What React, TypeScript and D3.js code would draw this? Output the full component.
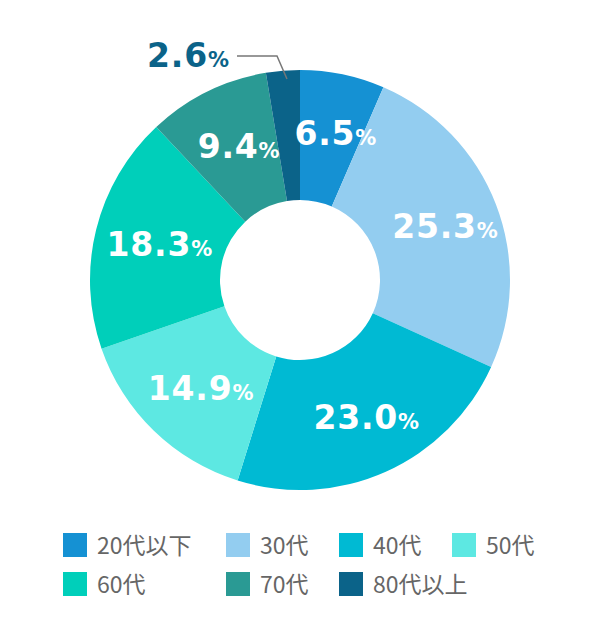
import React from "react";
import * as d3 from "d3";

const categories = ["20代以下", "30代", "40代", "50代", "60代", "70代", "80代以上"];
const values = [6.5, 25.3, 23.0, 14.9, 18.3, 9.4, 2.6];
const colors = ["#1591d3", "#93cdf0", "#00bad3", "#5de8e2", "#00cfba", "#2a9a94", "#0b6389"];

const W = 600, H = 640;
const cx = 300, cy = 280;
const R = 210, r0 = 80;

export default function App() {
  const pie = d3.pie<number>().sort(null).value((d) => d);
  const arcs = pie(values);
  const arc = d3.arc<d3.PieArcDatum<number>>().innerRadius(r0).outerRadius(R);
  const labelArc = d3.arc<d3.PieArcDatum<number>>().innerRadius(150).outerRadius(150);
  const numFont = "'DejaVu Sans', sans-serif";
  const legendX = [63, 226, 339, 452];
  const legendY = [533, 572];

  return (
    <svg width={W} height={H} style={{ position: "absolute", left: 0, top: 0 }}>
      <g transform={`translate(${cx},${cy})`}>
        {arcs.map((a, i) => (
          <path key={i} d={arc(a) || ""} fill={colors[i]} />
        ))}
        {arcs.map((a, i) => {
          if (i === arcs.length - 1) return null;
          const [x, y] = labelArc.centroid(a);
          return (
            <text
              key={"l" + i}
              x={x + 5}
              y={y + 12}
              textAnchor="middle"
              fill="#fff"
              fontFamily={numFont}
              fontWeight="bold"
              fontSize={33}
              letterSpacing={0.8}
            >
              {values[i].toFixed(1)}
              <tspan fontSize={21} letterSpacing={0}>%</tspan>
            </text>
          );
        })}
      </g>
      {/* outside label for smallest slice */}
      <text
        x={188}
        y={67}
        textAnchor="middle"
        fill={colors[6]}
        fontFamily={numFont}
        fontWeight="bold"
        fontSize={33}
        letterSpacing={0.8}
      >
        {values[6].toFixed(1)}
        <tspan fontSize={21} letterSpacing={0}>%</tspan>
      </text>
      <polyline points="237,56 277,56 287,79" fill="none" stroke="#777" strokeWidth={1.5} />
      {categories.map((c, i) => {
        const col = i < 4 ? i : i - 4;
        const row = i < 4 ? 0 : 1;
        const x = legendX[col];
        const y = legendY[row];
        return (
          <g key={"lg" + i}>
            <rect x={x} y={y} width={24} height={24} fill={colors[i]} />
            <text
              x={x + 34}
              y={y + 21}
              fill="#666"
              fontFamily="'Noto Sans CJK JP', sans-serif"
              fontSize={23}
            >
              {c}
            </text>
          </g>
        );
      })}
    </svg>
  );
}
